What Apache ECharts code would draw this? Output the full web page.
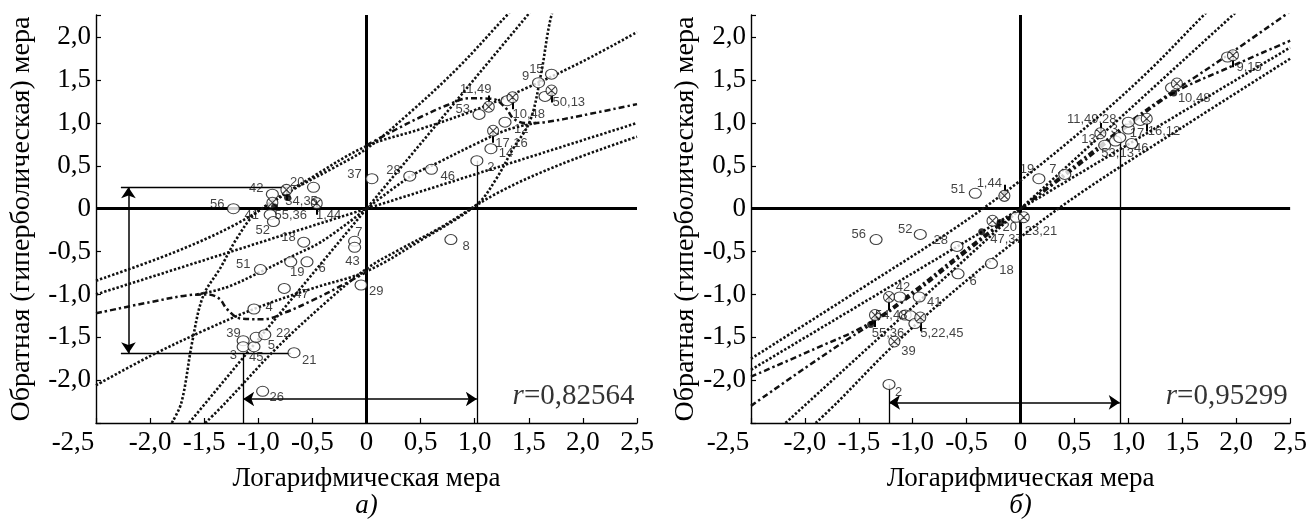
<!DOCTYPE html>
<html>
<head>
<meta charset="utf-8">
<script src="https://cdn.jsdelivr.net/npm/echarts@6/dist/echarts.min.js"></script>
<style>
  html, body { margin: 0; padding: 0; background: #ffffff; }
  #chart { width: 1310px; height: 524px; }
</style>
</head>
<body>
<div id="chart"></div>
<script>
// ---------- panel а): logarithmic vs reciprocal measure, r = 0.82564 ----------
const aOpenX = [-1.23, -0.87, -0.49, -0.89, -0.86, -0.58, -0.98, -0.70, -0.55, -0.76, -1.04, -1.14, -1.14, -1.04, -1.02, -0.94, -0.67, -0.96, -0.11, -0.11, -0.05, 0.78, 0.05, 0.40, 0.60, 1.02, 1.15, 1.28, 1.04, 1.30, 1.59, 1.71, 1.65];
const aOpenY = [0.00, 0.17, 0.25, -0.07, -0.15, -0.39, -0.71, -0.62, -0.62, -0.93, -1.17, -1.54, -1.61, -1.61, -1.50, -1.47, -1.68, -2.13, -0.38, -0.45, -0.89, -0.36, 0.35, 0.38, 0.46, 0.56, 0.70, 1.01, 1.10, 1.26, 1.47, 1.57, 1.31];
const aCrossX = [-0.74, -0.87, -0.46, 1.17, 1.13, 1.35, 1.71];
const aCrossY = [0.22, 0.07, 0.065, 0.91, 1.19, 1.30, 1.38];
const aStemEnd = [0.10, null, -0.07, 0.77, 1.32, 1.16, 1.24];
const aFilledX = [-0.73, -0.85];
const aFilledY = [0.13, 0.02];
const aTagText = ['56', '42', '20', '34,35', '1,44', '41', '55,36', '52', '18', '51', '19', '6', '47', '4', '39', '22', '5', '3', '45', '21', '26', '7', '43', '29', '8', '37', '28', '46', '2', '14', '17,16', '12', '53', '11,49', '10,48', '9', '15', '50,13'];
const aTagX = [-1.38, -1.02, -0.64, -0.60, -0.35, -1.06, -0.70, -0.96, -0.72, -1.14, -0.64, -0.41, -0.60, -0.90, -1.23, -0.77, -0.88, -1.23, -1.02, -0.53, -0.83, -0.07, -0.13, 0.09, 0.92, -0.11, 0.25, 0.75, 1.15, 1.29, 1.34, 1.43, 0.89, 1.01, 1.50, 1.47, 1.57, 1.87];
const aTagY = [0.05, 0.24, 0.31, 0.08, -0.08, -0.08, -0.08, -0.25, -0.33, -0.65, -0.74, -0.70, -1.00, -1.15, -1.46, -1.46, -1.59, -1.71, -1.74, -1.77, -2.20, -0.28, -0.61, -0.97, -0.44, 0.40, 0.45, 0.38, 0.48, 0.64, 0.76, 0.93, 1.16, 1.39, 1.10, 1.54, 1.63, 1.24];
// two straight lines through the centre
const aLineFlat = [[-2.5, -1.0], [0, 0], [2.5, 1.0]];
const aLineSteep = [[-1.64, -2.5], [0, 0], [1.49, 2.26], [1.65, 2.5]];
// curved bands (upper-left branches; the lower-right ones are their point reflections)
const aCurveP = [[-2.5, -0.84], [-1.8, -0.52], [-1.22, -0.19], [-0.67, 0.23], [-0.3, 0.48], [0, 0.70], [0.4, 1.12], [0.85, 1.65], [1.30, 2.26], [1.49, 2.5]];
const aCurveR = [[-2.5, -2.06], [-2.0, -1.72], [-1.5, -1.42], [-1.0, -1.15], [-0.5, -0.93], [0, -0.73], [0.5, -0.37], [1.02, 0.05], [1.2, 0.35], [1.35, 0.69], [1.51, 1.02], [1.61, 1.55], [1.71, 2.26], [1.80, 2.5]];
const aCurveE = [[-2.5, -1.22], [-2.0, -1.09], [-1.65, -1.01], [-1.47, -1.0], [-1.36, -1.05], [-1.29, -1.17], [-1.17, -1.28], [-0.95, -1.29], [-0.75, -1.21], [-0.5, -1.07], [-0.25, -0.91], [0, -0.74]];
const aCurveF = [[0, 0], [0.41, 0.38], [0.68, 0.55], [1.0, 0.75], [1.3, 0.92], [1.57, 1.0]];
// measurement guide lines
const aGuides = [[[-2.27, 0.25], [-0.72, 0.25]], [[-2.27, -1.685], [-0.70, -1.685]], [[-1.14, -1.685], [-1.14, -2.5]], [[1.02, 0.56], [1.02, -2.5]]];
const aArrows = [[[-2.2, 0.25], [-2.2, -1.685]], [[-1.14, -2.22], [1.02, -2.22]]];
const aR = '0,82564';

// ---------- panel б): r = 0.95299 ----------
const bOpenX = [-0.42, 0.17, 0.41, -0.04, -1.34, -0.93, -0.59, -0.27, -0.58, -1.12, -0.94, -1.07, -1.02, -0.98, -1.22, 0.78, 0.88, 0.92, 1.00, 1.00, 1.11, 1.03, 1.40, 1.92];
const bOpenY = [0.18, 0.35, 0.40, -0.10, -0.36, -0.30, -0.44, -0.64, -0.76, -1.03, -1.03, -1.24, -1.25, -1.34, -2.05, 0.74, 0.79, 0.83, 0.93, 1.01, 1.03, 0.76, 1.41, 1.77];
const bCrossX = [-0.15, 0.03, -0.26, -1.22, -1.35, -0.93, -1.17, 0.74, 1.17, 1.45, 1.97];
const bCrossY = [0.15, -0.10, -0.14, -1.03, -1.24, -1.27, -1.55, 0.88, 1.05, 1.46, 1.79];
const bStemEnd = [0.28, null, null, -1.18, -1.38, -1.43, null, 1.00, 0.90, null, 1.65];
const bFilledX = [-0.19, -0.36, 1.42, -1.39];
const bFilledY = [-0.16, -0.27, 1.35, -1.35];
const bTagText = ['51', '1,44', '19', '7', '20', '47,37', '23,21', '56', '52', '28', '18', '6', '42', '41', '54,48', '55,36', '5,22,45', '39', '2', '11,49,28', '13', '3', '17', '16,12', '53,13', '46', '10,48', '9,15'];
const bTagX = [-0.58, -0.29, 0.06, 0.30, -0.10, -0.13, 0.19, -1.50, -1.07, -0.74, -0.13, -0.44, -1.09, -0.80, -1.20, -1.23, -0.73, -1.04, -1.13, 0.66, 0.63, 0.87, 1.08, 1.33, 0.90, 1.12, 1.61, 2.12];
const bTagY = [0.23, 0.29, 0.46, 0.46, -0.22, -0.36, -0.26, -0.30, -0.24, -0.37, -0.72, -0.85, -0.92, -1.09, -1.25, -1.45, -1.45, -1.67, -2.14, 1.04, 0.81, 0.92, 0.88, 0.90, 0.65, 0.70, 1.29, 1.65];
const bLineFlat = [[-2.5, -1.88], [0, 0], [2.5, 1.88]];
const bLineSteep = [[-2.18, -2.5], [0, 0], [1.97, 2.26], [2.18, 2.5]];
const bCurveA = [[-2.5, -1.75], [-1.5, -0.95], [-0.6, -0.22], [0, 0.33], [0.7, 1.05], [1.2, 1.62], [1.70, 2.26], [1.90, 2.5]];
const bCurveC = [[0, 0], [0.5, 0.47], [1.0, 0.97], [1.42, 1.35], [1.9, 1.63], [2.5, 1.96]];
const bCurveK = [[-2.5, -2.30], [-2.0, -1.86], [-1.6, -1.52], [-1.39, -1.35], [-1.0, -1.0], [-0.5, -0.5], [0, 0]];
const bGuides = [[[-1.22, -2.05], [-1.22, -2.5]], [[0.92, 0.77], [0.92, -2.5]]];
const bArrows = [[[-1.22, -2.26], [0.92, -2.26]]];
const bR = '0,95299';

// ---------- shared pieces ----------
const serif = '"Liberation Serif", "Times New Roman", "DejaVu Serif", serif';
const sans = '"Liberation Sans", Arial, sans-serif';
const ink = '#000000';
const crossPath = 'path://M10,0A10,10 0 1,1 9.99,0Z M2.9,2.9L17.1,17.1M17.1,2.9L2.9,17.1';

function mirror(pts) { return pts.map(p => [-p[0], -p[1]]).reverse(); }
function fmt(v) {
  if (Math.abs(v) < 1e-9) return '0';
  return v.toFixed(1).replace('.', ',');
}
function zip(xs, ys) { return xs.map((x, i) => [x, ys[i]]); }

const series = [];
const xAxes = [];
const yAxes = [];
const grids = [
  { left: 96, top: 15, width: 541, height: 417 },
  { left: 751, top: 15, width: 542, height: 417 }
];

function axisPair(i, caption, yNameGap) {
  xAxes.push({
    gridIndex: i, type: 'value', min: -2.5, max: 2.5, interval: 0.5,
    axisLine: { show: true, onZero: false, lineStyle: { color: ink, width: 1.4 } },
    axisTick: { show: true, inside: true, length: 5, lineStyle: { color: ink, width: 1.2 } },
    splitLine: { show: false },
    axisLabel: {
      color: ink, fontFamily: serif, fontSize: 27, margin: 6,
      // the leftmost label sits clear of the vertical axis
      formatter: v => (v < -2.4) ? '{m|' + fmt(v) + '}' : fmt(v),
      rich: { m: { fontFamily: serif, fontSize: 27, color: ink, padding: [0, 46, 0, 0] } }
    },
    name: '{t|Логарифмическая мера}\n{s|' + caption + ')}',
    nameLocation: 'middle', nameGap: 42,
    nameTextStyle: {
      rich: {
        t: { fontFamily: serif, fontSize: 27, color: ink, lineHeight: 27 },
        s: { fontFamily: serif, fontSize: 27, fontStyle: 'italic', color: ink, lineHeight: 27 }
      }
    }
  });
  yAxes.push({
    gridIndex: i, type: 'value', min: -2.5, max: 2.26, interval: 0.5,
    axisLine: { show: true, onZero: false, lineStyle: { color: ink, width: 1.4 } },
    axisTick: { show: true, inside: true, length: 5, lineStyle: { color: ink, width: 1.2 } },
    splitLine: { show: false },
    axisLabel: {
      color: ink, fontFamily: serif, fontSize: 27, margin: 5,
      formatter: v => (v < -2.4 || v > 2.1) ? '' : fmt(v)
    },
    name: 'Обратная (гиперболическая) мера', nameLocation: 'middle', nameGap: yNameGap,
    nameTextStyle: { fontFamily: serif, fontSize: 28, color: ink }
  });
}

function addPanel(i, d) {
  const ax = { xAxisIndex: i, yAxisIndex: i };
  // heavy coordinate cross through the origin
  series.push(Object.assign({
    type: 'lines', coordinateSystem: 'cartesian2d', z: 2, silent: true,
    lineStyle: { color: '#000', width: 3, opacity: 1 },
    data: [{ coords: [[-2.5, 0], [2.5, 0]] }, { coords: [[0, -2.5], [0, 2.26]] }]
  }, ax));
  // thin guides
  series.push(Object.assign({
    type: 'lines', coordinateSystem: 'cartesian2d', z: 2, silent: true,
    lineStyle: { color: '#000', width: 1.3, opacity: 1 },
    data: d.guides.map(c => ({ coords: c }))
  }, ax));
  series.push(Object.assign({
    type: 'lines', coordinateSystem: 'cartesian2d', z: 2, silent: true,
    symbol: ['arrow', 'arrow'], symbolSize: 11,
    lineStyle: { color: '#000', width: 1.5, opacity: 1 },
    data: d.arrows.map(c => ({ coords: c }))
  }, ax));
  // dotted lines and curves
  d.dotted.forEach(pts => {
    series.push(Object.assign({
      type: 'line', smooth: pts.length > 4 ? 0.35 : 0, symbol: 'none', z: 3, silent: true, clip: true,
      lineStyle: { color: '#111', width: 2.6, type: [2.4, 1.9] },
      data: pts
    }, ax));
  });
  d.dashdot.forEach(pts => {
    series.push(Object.assign({
      type: 'line', smooth: 0.35, symbol: 'none', z: 3, silent: true, clip: true,
      lineStyle: { color: '#111', width: 2.5, type: [6, 3, 2.4, 3] },
      data: pts
    }, ax));
  });
  // stems on crossed markers
  const stems = [];
  d.crossX.forEach((x, k) => {
    if (d.stemEnd[k] !== null) stems.push({ coords: [[x, d.crossY[k]], [x, d.stemEnd[k]]] });
  });
  series.push(Object.assign({
    type: 'lines', coordinateSystem: 'cartesian2d', z: 4, silent: true,
    lineStyle: { color: '#000', width: 2, opacity: 1 }, data: stems
  }, ax));
  series.push(Object.assign({
    type: 'scatter', z: 5, silent: true, symbol: 'circle', symbolSize: [12, 10],
    itemStyle: { color: '#fff', borderColor: '#111', borderWidth: 1.1 },
    data: zip(d.openX, d.openY)
  }, ax));
  series.push(Object.assign({
    type: 'scatter', z: 6, silent: true, symbol: crossPath, symbolSize: 11,
    itemStyle: { color: '#fff', borderColor: '#111', borderWidth: 1.1 },
    data: zip(d.crossX, d.crossY)
  }, ax));
  series.push(Object.assign({
    type: 'scatter', z: 6, silent: true, symbol: 'circle', symbolSize: 7,
    itemStyle: { color: '#000' },
    data: zip(d.filledX, d.filledY)
  }, ax));
  // point numbers
  series.push(Object.assign({
    type: 'scatter', z: 7, silent: true, symbolSize: 1, itemStyle: { color: 'rgba(0,0,0,0)' },
    label: { show: true, position: 'inside', formatter: '{b}', fontFamily: sans, fontSize: 13, color: '#111' },
    data: d.tagText.map((t, k) => ({ name: t, value: [d.tagX[k], d.tagY[k]] }))
  }, ax));
  // correlation coefficient
  series.push(Object.assign({
    type: 'scatter', z: 7, silent: true, symbolSize: 1, itemStyle: { color: 'rgba(0,0,0,0)' },
    label: {
      show: true, position: 'left', distance: 2, formatter: '{i|r}{n|=' + d.r + '}',
      rich: {
        i: { fontFamily: serif, fontStyle: 'italic', fontSize: 29, color: '#000' },
        n: { fontFamily: serif, fontSize: 29, color: '#000' }
      }
    },
    data: [[2.5, -2.19]]
  }, ax));
}

axisPair(0, 'а', 60);
axisPair(1, 'б', 50);
addPanel(0, {
  openX: aOpenX, openY: aOpenY, crossX: aCrossX, crossY: aCrossY, stemEnd: aStemEnd,
  filledX: aFilledX, filledY: aFilledY, tagText: aTagText, tagX: aTagX, tagY: aTagY,
  dotted: [aLineFlat, aLineSteep, aCurveP, mirror(aCurveP), aCurveR, mirror(aCurveR), aCurveF, mirror(aCurveF)],
  dashdot: [aCurveE, mirror(aCurveE)],
  guides: aGuides, arrows: aArrows, r: aR
});
addPanel(1, {
  openX: bOpenX, openY: bOpenY, crossX: bCrossX, crossY: bCrossY, stemEnd: bStemEnd,
  filledX: bFilledX, filledY: bFilledY, tagText: bTagText, tagX: bTagX, tagY: bTagY,
  dotted: [bLineFlat, bLineSteep, bCurveA, mirror(bCurveA)],
  dashdot: [bCurveC, mirror(bCurveC), bCurveK, mirror(bCurveK)],
  guides: bGuides, arrows: bArrows, r: bR
});

const chart = echarts.init(document.getElementById('chart'), null, { renderer: 'canvas' });
chart.setOption({
  backgroundColor: '#ffffff',
  animation: false,
  grid: grids,
  xAxis: xAxes,
  yAxis: yAxes,
  series: series
});
</script>
</body>
</html>
